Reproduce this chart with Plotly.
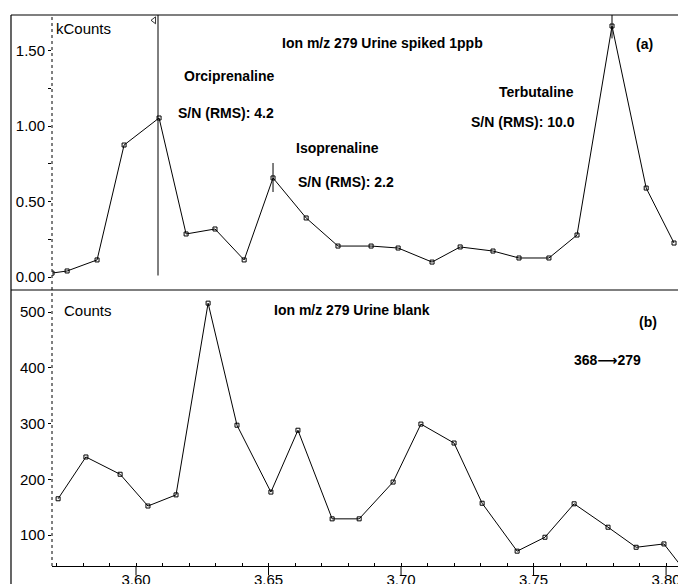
import plotly.graph_objects as go

# ---- data ----
time_a = [3.5683, 3.5740, 3.5853, 3.5955, 3.6087, 3.6189, 3.6298, 3.6408, 3.6517,
          3.6642, 3.6762, 3.6887, 3.6989, 3.7117, 3.7223, 3.7347, 3.7445, 3.7558,
          3.7664, 3.7796, 3.7925, 3.8030]
kcounts_a = [0.026, 0.040, 0.113, 0.874, 1.053, 0.285, 0.318, 0.113, 0.656,
             0.391, 0.205, 0.205, 0.192, 0.099, 0.199, 0.172, 0.126, 0.126,
             0.278, 1.662, 0.589, 0.225]

time_b = [3.5706, 3.5811, 3.5940, 3.6045, 3.6151, 3.6272, 3.6381, 3.6509, 3.6611,
          3.6740, 3.6842, 3.6970, 3.7075, 3.7200, 3.7306, 3.7438, 3.7543, 3.7653,
          3.7781, 3.7887, 3.7992, 3.8080]
counts_b = [165, 240, 209, 152, 172, 516, 297, 177, 288, 129, 129, 195, 299, 265,
            157, 71, 96, 156, 114, 78, 84, 30]

x_ticks = [3.60, 3.65, 3.70, 3.75, 3.80]
x_tick_labels = ["3.60", "3.65", "3.70", "3.75", "3.80"]
ya_ticks = [0.0, 0.5, 1.0, 1.5]
ya_tick_labels = ["0.00", "0.50", "1.00", "1.50"]
yb_ticks = [100, 200, 300, 400, 500]
yb_tick_labels = ["100", "200", "300", "400", "500"]

peak_names = ["Orciprenaline", "Isoprenaline", "Terbutaline"]
peak_sn = [4.2, 2.2, 10.0]
peak_times = [3.6083, 3.6517, 3.7796]
peak_mark_low = [0.01, 0.563, 1.58]
peak_mark_high = [1.735, 0.755, 1.735]

x_range = [3.5683, 3.8045]
ya_range = [-0.086, 1.735]
yb_range = [44.4, 537.7]

FONT = "Liberation Sans, Arial, sans-serif"

fig = go.Figure()

line_style = dict(color="black", width=1)
marker_style = dict(symbol="square-open", size=4, color="black", line=dict(width=1, color="black"))

fig.add_trace(go.Scatter(x=time_a, y=kcounts_a, mode="lines+markers", line=line_style,
                         marker=marker_style, xaxis="x", yaxis="y", showlegend=False))
fig.add_trace(go.Scatter(x=time_b, y=counts_b, mode="lines+markers", line=line_style,
                         marker=marker_style, xaxis="x2", yaxis="y2", showlegend=False))
# small triangle flag at top of first peak marker
fig.add_trace(go.Scatter(x=[peak_times[0] - 0.0015], y=[1.70], mode="markers",
                         marker=dict(symbol="triangle-left-open", size=6, color="black",
                                     line=dict(width=0.8, color="black")),
                         xaxis="x", yaxis="y", showlegend=False))

shapes = []
for t, lo, hi in zip(peak_times, peak_mark_low, peak_mark_high):
    shapes.append(dict(type="line", xref="x", yref="y", x0=t, x1=t, y0=lo, y1=hi,
                       line=dict(color="black", width=1)))

# frame lines
fx = -0.0655
shapes += [
    dict(type="line", xref="paper", yref="paper", x0=fx, x1=fx, y0=-0.04, y1=1,
         line=dict(color="black", width=1.2)),
    dict(type="line", xref="paper", yref="paper", x0=fx, x1=1, y0=1, y1=1,
         line=dict(color="black", width=1.2)),
    dict(type="line", xref="paper", yref="paper", x0=fx, x1=1, y0=0.5009, y1=0.5009,
         line=dict(color="black", width=1.2)),
    dict(type="line", xref="paper", yref="paper", x0=0, x1=0, y0=0, y1=1,
         line=dict(color="black", width=1, dash="dot")),
]

axis_common = dict(showgrid=False, zeroline=False, color="black", automargin=False,
                   tickfont=dict(family=FONT, size=15, color="black"))

fig.update_layout(
    width=678, height=584,
    margin=dict(l=52, r=0, t=15, b=18),
    paper_bgcolor="white", plot_bgcolor="white",
    font=dict(family=FONT, color="black"),
    xaxis=dict(domain=[0, 1], range=x_range, anchor="y", showticklabels=False,
               showline=False, ticks="", tickvals=x_ticks, **axis_common),
    yaxis=dict(domain=[0.5009, 1], range=ya_range, anchor="x", tickvals=ya_ticks,
               ticktext=ya_tick_labels, ticks="outside", ticklen=3, showline=False,
               minor=dict(tickvals=[0.25, 0.75, 1.25], ticks="outside", ticklen=3,
                          tickcolor="black"),
               **axis_common),
    xaxis2=dict(domain=[0, 1], range=x_range, anchor="y2", tickvals=x_ticks,
                ticktext=x_tick_labels, ticks="", showline=True,
                linecolor="black", linewidth=1.2, ticklabeloverflow="allow",
                minor=dict(dtick=0.01, tick0=3.60, ticks="inside", ticklen=3,
                           tickcolor="black"),
                **axis_common),
    yaxis2=dict(domain=[0, 0.499], range=yb_range, anchor="x2", tickvals=yb_ticks,
                ticktext=yb_tick_labels, ticks="outside", ticklen=3, showline=False,
                **axis_common),
    shapes=shapes,
)

# longer major tick marks crossing into the time labels
for t in x_ticks:
    fig.add_shape(type="line", xref="x2", yref="paper", x0=t, x1=t, y0=0, y1=-0.017,
                  line=dict(color="black", width=1))


def px_to_paper(px, py):
    return (px - 52) / 626, (566 - py) / 551


def add_text(text, px, py, bold=True, size=15, xanchor="left"):
    xp, yp = px_to_paper(px, py)
    fig.add_annotation(xref="paper", yref="paper", x=xp, y=yp, text=f"<b>{text}</b>" if bold else text,
                       showarrow=False, xanchor=xanchor, yanchor="middle",
                       font=dict(family=FONT, size=size, color="black"))


add_text("kCounts", 54, 28, bold=False)
add_text("Ion m/z 279 Urine spiked 1ppb", 382, 43, xanchor="center", size=14)
add_text("(a)", 644, 44, xanchor="center", size=14)
add_text(peak_names[0], 229, 76, xanchor="center", size=14)
add_text(f"S/N (RMS): {peak_sn[0]:.1f}", 226, 113, xanchor="center", size=14)
add_text(peak_names[1], 337, 148, xanchor="center", size=14)
add_text(f"S/N (RMS): {peak_sn[1]:.1f}", 346, 182, xanchor="center", size=14)
add_text(peak_names[2], 536, 92, xanchor="center", size=14)
add_text(f"S/N (RMS): {peak_sn[2]:.1f}", 523, 122, xanchor="center", size=14)

add_text("Counts", 62, 310, bold=False)
add_text("Ion m/z 279 Urine blank", 352, 310, xanchor="center", size=14)
add_text("(b)", 648, 322, xanchor="center", size=14)
add_text("368<span style='font-family:DejaVu Sans'>\u27F6</span>279", 607, 360,
         xanchor="center", size=14)

fig.write_html("out.html", config={"displayModeBar": False},
               post_script="document.body.style.margin='0';document.body.style.overflow='hidden';")
